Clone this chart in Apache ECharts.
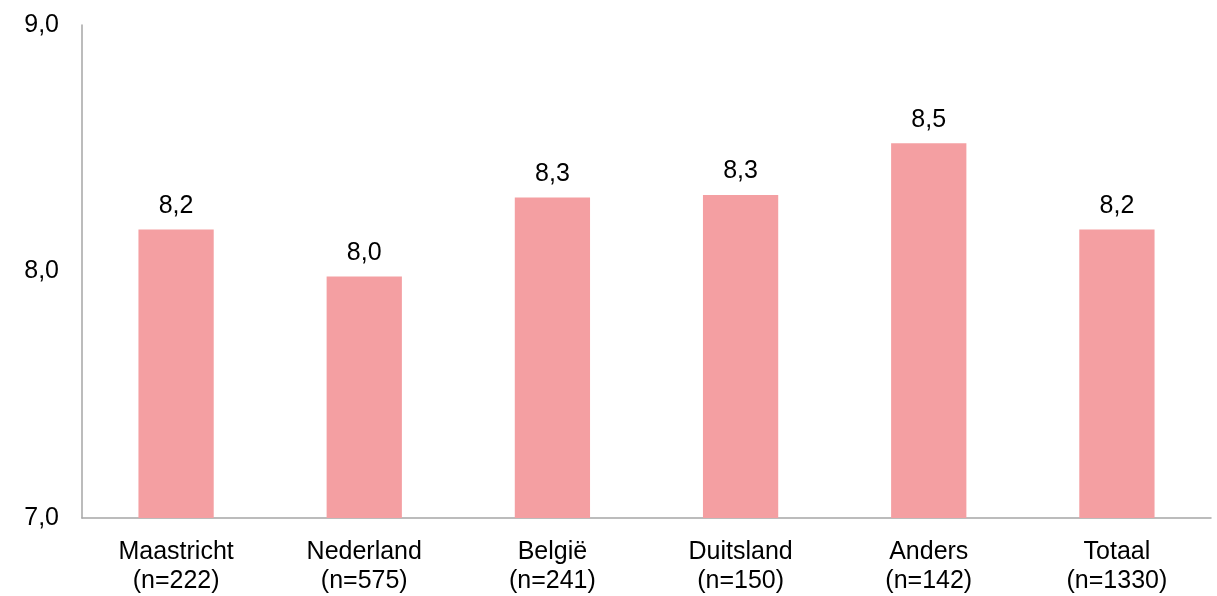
<!DOCTYPE html>
<html>
<head>
<meta charset="utf-8">
<script src="https://cdn.jsdelivr.net/npm/echarts@6/dist/echarts.min.js"></script>
<style>
html,body{margin:0;padding:0;background:#fff;}
#chart{width:1217px;height:596px;}
</style>
</head>
<body>
<div id="chart"></div>
<script>
const categories = ['Maastricht\n(n=222)', 'Nederland\n(n=575)', 'België\n(n=241)', 'Duitsland\n(n=150)', 'Anders\n(n=142)', 'Totaal\n(n=1330)'];
const values = [8.17, 7.98, 8.30, 8.31, 8.52, 8.17];
const yTicks = { min: 7, max: 9, interval: 1 };

const fmt = v => Number(v).toFixed(1).replace('.', ',');
const chart = echarts.init(document.getElementById('chart'));
chart.setOption({
  animation: false,
  backgroundColor: '#ffffff',
  textStyle: { fontFamily: 'Liberation Sans, Arial, sans-serif' },
  grid: { left: 82, right: 6, top: 25, bottom: 77, containLabel: false },
  xAxis: {
    type: 'category',
    data: categories,
    axisLine: { show: true, lineStyle: { color: '#A6A6A6', width: 1.5 } },
    axisTick: { show: false },
    axisLabel: { color: '#000', fontSize: 25, lineHeight: 29, margin: 20, interval: 0, fontFamily: 'Liberation Sans' }
  },
  yAxis: {
    type: 'value',
    min: yTicks.min, max: yTicks.max, interval: yTicks.interval,
    axisLine: { show: true, lineStyle: { color: '#A6A6A6', width: 1.5 } },
    axisTick: { show: false },
    splitLine: { show: false },
    axisLabel: { color: '#000', fontSize: 25, margin: 23, formatter: fmt, fontFamily: 'Liberation Sans' }
  },
  series: [{
    type: 'bar',
    data: values,
    barWidth: '40%',
    itemStyle: { color: '#F49FA2' },
    label: { show: true, position: 'top', distance: 11, color: '#000', fontSize: 25, fontFamily: 'Liberation Sans', formatter: p => fmt(p.value) }
  }]
});
</script>
</body>
</html>
